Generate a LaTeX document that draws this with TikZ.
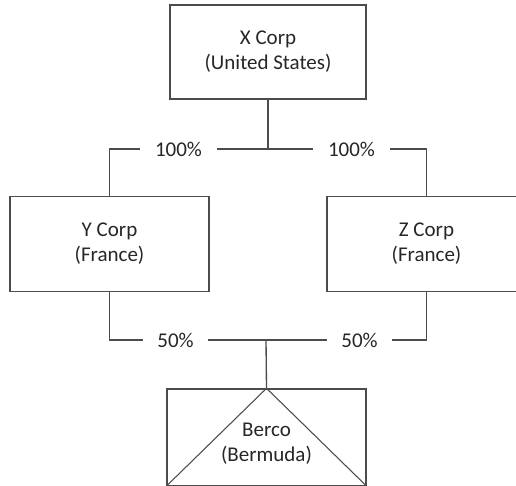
\documentclass[tikz,border=0pt]{standalone}
\usepackage{fontspec}
\setmainfont{Carlito}
\begin{document}
\begin{tikzpicture}[x=0.75pt,y=-0.75pt,line width=1pt,
        corp/.style={draw=black!70,minimum width=149.25pt,minimum height=71.25pt,align=center,text=black!85,font=\fontsize{15.75}{18.75}\selectfont},
        share/.style={fill=white,inner xsep=11pt,inner ysep=2pt,text=black!85,font=\fontsize{15.75}{18.75}\selectfont}]
        \useasboundingbox (0,0) rectangle (516,485);
        \clip (0,0) rectangle (516,485);
        \node[corp,minimum width=147pt,minimum height=70.5pt] (xcorp) at (268,52) {X Corp\\(United States)};
        \node[corp] (ycorp) at (109.5,244) {Y Corp\\(France)};
        \node[corp] (zcorp) at (426.5,244) {Z Corp\\(France)};
        \node[corp,minimum height=72.4pt] (berco) at (266.5,437.25) {};
        \node[corp,draw=none] (bercotext) at (266.5,444) {Berco\\(Bermuda)};
        \coordinate (topbar) at (268,149);
        \coordinate (botbar) at (266,340);
        \draw[black!70] (xcorp.south) -- (topbar);
        \draw[black!70] (ycorp.north) |- (topbar) -| (zcorp.north);
        \draw[black!70] (ycorp.south) |- (botbar) -| (zcorp.south);
        \draw[black!70] (botbar) -- (berco.north);
        \draw[black!70,line width=0.8pt] (berco.south west) -- (berco.north) -- (berco.south east);
        \node[share] (yshare) at (178.5,149) {100\%};
        \node[share] (zshare) at (351.5,149) {100\%};
        \node[share] (ybshare) at (175.5,340) {50\%};
        \node[share] (zbshare) at (359.5,340) {50\%};
    \end{tikzpicture}
\end{document}
